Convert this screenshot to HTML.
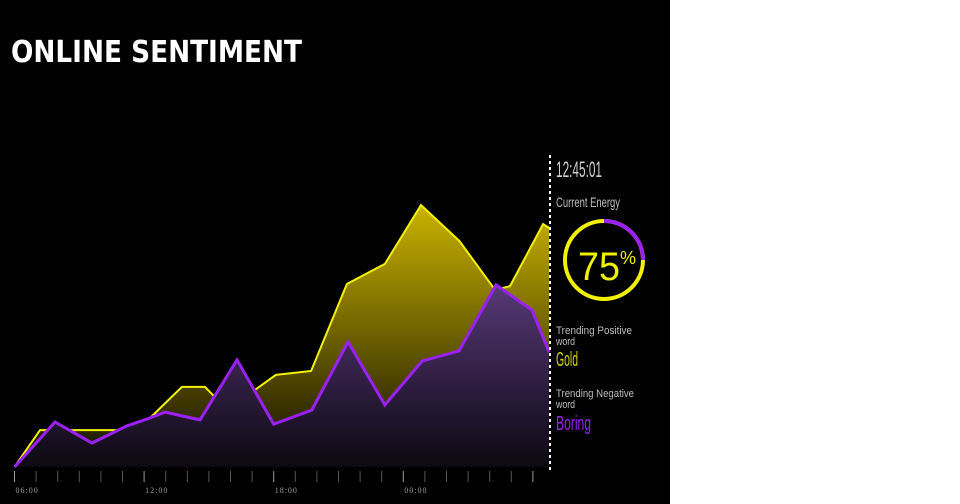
<!DOCTYPE html>
<html><head><meta charset="utf-8">
<style>
html,body{margin:0;padding:0;background:#fff;}
svg{display:block;}
</style></head>
<body>
<svg id="chart" width="960" height="504" viewBox="0 0 960 504">
<defs>
<linearGradient id="gy" gradientUnits="userSpaceOnUse" x1="0" y1="205" x2="0" y2="467">
<stop offset="0" stop-color="#c9b300"/><stop offset="0.6" stop-color="#5a4f00"/><stop offset="1" stop-color="#0e0c00"/>
</linearGradient>
<linearGradient id="gp" gradientUnits="userSpaceOnUse" x1="0" y1="285" x2="0" y2="467">
<stop offset="0" stop-color="#563a76"/><stop offset="0.55" stop-color="#2e1d40"/><stop offset="1" stop-color="#0d0912"/>
</linearGradient>
</defs>
<rect x="0" y="0" width="670" height="504" fill="#000"/>
<text x="11" y="62" font-family="'DejaVu Sans','Liberation Sans',sans-serif" font-weight="bold" font-size="30" fill="#fff" textLength="291" lengthAdjust="spacingAndGlyphs">ONLINE SENTIMENT</text>
<g id="areas"></g>
<g id="axis"></g>
<line x1="550" y1="155" x2="550" y2="470" stroke="#fff" stroke-width="2" stroke-dasharray="3,3"/>
<g font-family="'Liberation Sans Narrow','Liberation Sans',sans-serif">
<text x="556" y="177" font-size="22" fill="#d0d0d0" textLength="46" lengthAdjust="spacingAndGlyphs">12:45:01</text>
<text x="556" y="207" font-size="14" fill="#bdbdbd" textLength="64" lengthAdjust="spacingAndGlyphs">Current Energy</text>
<circle cx="604" cy="260" r="39" fill="none" stroke="#f0f000" stroke-width="4"/>
<path d="M604 221 A39 39 0 0 1 643 260" fill="none" stroke="#9b20f5" stroke-width="4"/>
<text x="578" y="280" font-size="40" fill="#f0f000" textLength="42" lengthAdjust="spacingAndGlyphs">75</text>
<text x="620" y="264" font-size="18" fill="#f0f000">%</text>
<text x="556" y="334" font-size="11" fill="#bdbdbd" textLength="76" lengthAdjust="spacingAndGlyphs">Trending Positive</text>
<text x="556" y="345" font-size="11" fill="#bdbdbd" textLength="19" lengthAdjust="spacingAndGlyphs">word</text>
<text x="556" y="366" font-size="20" fill="#d2d400" textLength="22" lengthAdjust="spacingAndGlyphs">Gold</text>
<text x="556" y="397" font-size="11" fill="#bdbdbd" textLength="78" lengthAdjust="spacingAndGlyphs">Trending Negative</text>
<text x="556" y="408" font-size="11" fill="#bdbdbd" textLength="19" lengthAdjust="spacingAndGlyphs">word</text>
<text x="556" y="430" font-size="20" fill="#9b20f5" textLength="35" lengthAdjust="spacingAndGlyphs">Boring</text>
</g>
</svg>
<script>
const positiveHours = [0,1.18,4.75,6.27,7.75,8.82,9.28,11.13,12.1,13.73,15.39,17.15,18.82,20.6,22.25,22.94,24.47,24.75];
const positiveValues = [0,12.3,12.3,16.3,26.7,26.7,23.3,25.7,30.7,32,61,67.7,87.3,75.3,59,60.3,81,79.7];
const negativeHours = [0,1.875,3.59,5.2,6.14,6.97,8.59,10.3,12.0,13.77,15.44,17.15,18.87,20.58,22.29,23.96,24.75];
const negativeValues = [0,15,8,13.7,16,18.3,15.7,35.7,14.3,19,41.7,20.7,35.3,38.7,60.7,52.3,38.3];
const tickLabels = ["06:00","12:00","18:00","00:00"];
const tickCount = 24;

const NS = "http://www.w3.org/2000/svg";
function xScale(h){ return 14.5 + h * 21.6; }
function yScale(v){ return 467 - v * 3; }

const areas = document.getElementById('areas');
function drawSeries(hours, vals, fill, stroke, sw, name){
  let pts = hours.map((h,i)=> xScale(h).toFixed(1)+','+yScale(vals[i]).toFixed(1));
  const area = document.createElementNS(NS,'polygon');
  area.setAttribute('points', xScale(hours[0])+','+yScale(0)+' '+pts.join(' ')+' '+xScale(hours[hours.length-1])+','+yScale(0));
  area.setAttribute('fill', fill);
  
  
  areas.appendChild(area);
  const line = document.createElementNS(NS,'polyline');
  line.setAttribute('points', pts.join(' '));
  line.setAttribute('fill','none');
  line.setAttribute('stroke', stroke);
  line.setAttribute('stroke-width', sw);
  line.setAttribute('stroke-linejoin','miter');
  
  
  areas.appendChild(line);
}
drawSeries(positiveHours, positiveValues, 'url(#gy)', '#f2f200', 2, 'positive-sentiment');
drawSeries(negativeHours, negativeValues, 'url(#gp)', '#9b20f5', 3, 'negative-sentiment');

const axis = document.getElementById('axis');
for(let i=0;i<=tickCount;i++){
  const x = xScale(i);
  const t = document.createElementNS(NS,'line');
  t.setAttribute('x1',x); t.setAttribute('x2',x);
  t.setAttribute('y1',471); t.setAttribute('y2',482);
  t.setAttribute('stroke', i%6===0 ? '#9a9a9a' : '#555');
  t.setAttribute('stroke-width', 1);
  
  
  axis.appendChild(t);
  if(i%6===0 && tickLabels[i/6]){
    const lb = document.createElementNS(NS,'text');
    lb.setAttribute('x', x+1);
    lb.setAttribute('y', 493);
    lb.setAttribute('font-family',"'Liberation Serif',serif");
    lb.setAttribute('font-size','8');
    lb.setAttribute('fill','#9a9a9a');
    lb.setAttribute('letter-spacing','1');
    lb.textContent = tickLabels[i/6];
    
    
    axis.appendChild(lb);
  }
}
</script>
</body></html>
